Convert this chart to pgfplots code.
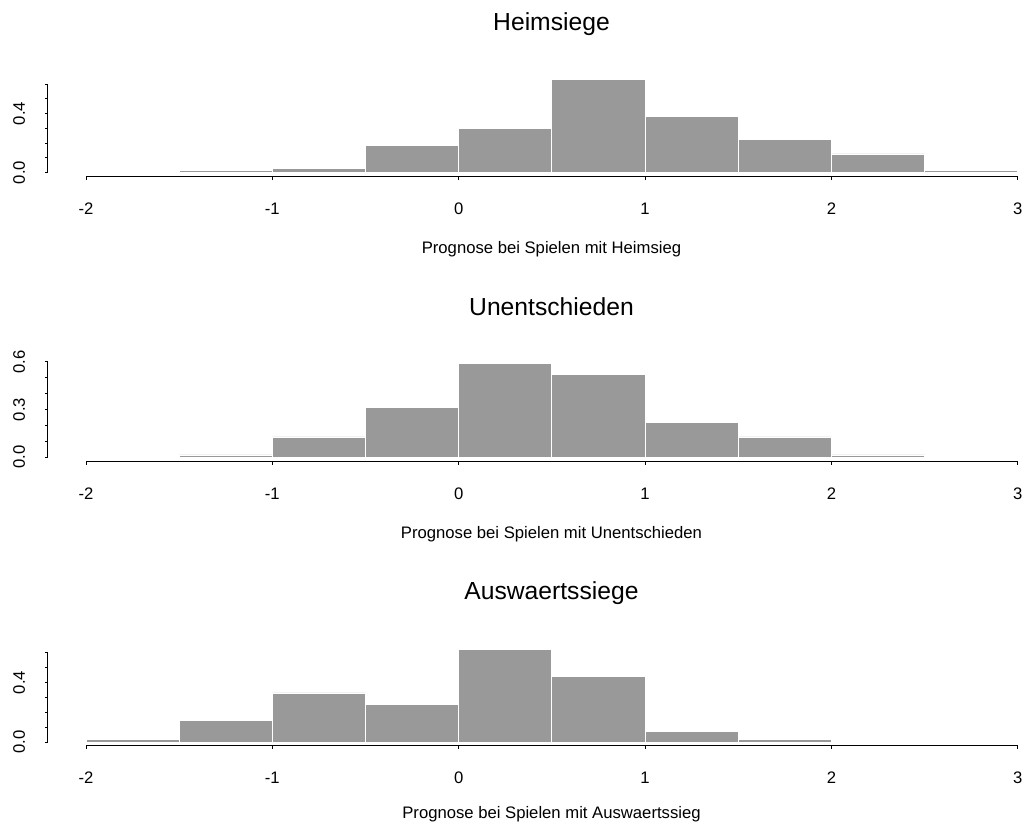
\documentclass[border=0pt]{standalone}
\usepackage{fontspec}
\setmainfont{Liberation Sans}
\usepackage{pgfplots}
\pgfplotsset{compat=1.18}
\definecolor{bargray}{RGB}{153,153,153}
\pgfplotsset{
 rhist/.style={
  scale only axis, width=755.25pt, xmin=-2.204, xmax=3.2,
  axis lines*=left, axis line style={draw=none},
  tick align=outside, major tick length=2pt, tick style={black, line width=0.6pt},
  xtick={-2,-1,0,1,2,3}, xticklabels={-2,-1,0,1,2,3},
  ytick={0,0.1,0.2,0.3,0.4,0.5,0.6},
  ticklabel style={font=\fontsize{12.5}{14}\selectfont, inner sep=0pt},
  xticklabel style={anchor=base},
  xticklabel shift=26.5pt,
  yticklabel style={rotate=90, anchor=base},
  yticklabel shift=15.25pt,
  title style={at={(axis description cs:0.5,0)}, anchor=base, yshift=103.5pt, font=\fontsize{18.5}{20}\selectfont, inner sep=0pt},
  xlabel style={at={(axis description cs:0.5,0)}, anchor=base, yshift=-57.3pt, font=\fontsize{12.5}{14}\selectfont, inner sep=0pt},
  clip=false,
 },
 hbar/.style={ybar, bar width=0.5, bar shift=0pt, fill=bargray, draw=white, line width=0.6pt},
}
\begin{document}
\begin{tikzpicture}
% Panel 1
\begin{axis}[rhist, at={(36pt,485.25pt)}, height=75.3pt, ymin=-0.0305, ymax=0.65,
  yticklabels={0.0,,,,0.4,,},
  title={Heimsiege}, xlabel={Prognose bei Spielen mit Heimsieg}]
\addplot[hbar] coordinates {(-1.25,0.016) (-0.75,0.03) (-0.25,0.183) (0.25,0.297) (0.75,0.63) (1.25,0.378) (1.75,0.225) (2.25,0.126) (2.75,0.016)};
\draw[line width=0.75pt] (axis cs:-2,-0.0305) -- (axis cs:3,-0.0305);
\draw[line width=0.75pt] (axis cs:-2.204,0) -- (axis cs:-2.204,0.6);
\end{axis}
% Panel 2
\begin{axis}[rhist, at={(36pt,271.5pt)}, height=77.6pt, ymin=-0.0295, ymax=0.62,
  yticklabels={0.0,,,0.3,,,0.6},
  title={Unentschieden}, xlabel={Prognose bei Spielen mit Unentschieden}]
\addplot[hbar] coordinates {(-1.25,0.015) (-0.75,0.128) (-0.25,0.314) (0.25,0.59) (0.75,0.52) (1.25,0.22) (1.75,0.128) (2.25,0.015)};
\draw[line width=0.75pt] (axis cs:-2,-0.0295) -- (axis cs:3,-0.0295);
\draw[line width=0.75pt] (axis cs:-2.204,0) -- (axis cs:-2.204,0.6);
\end{axis}
% Panel 3
\begin{axis}[rhist, at={(36pt,58.5pt)}, height=75.5pt, ymin=-0.027, ymax=0.65,
  yticklabels={0.0,,,,0.4,,},
  title={Auswaertssiege}, xlabel={Prognose bei Spielen mit Auswaertssieg},
  xlabel style={yshift=2.8pt}]
\addplot[hbar] coordinates {(-1.75,0.016) (-1.25,0.147) (-0.75,0.33) (-0.25,0.253) (0.25,0.625) (0.75,0.44) (1.25,0.069) (1.75,0.017)};
\draw[line width=0.75pt] (axis cs:-2,-0.027) -- (axis cs:3,-0.027);
\draw[line width=0.75pt] (axis cs:-2.204,0) -- (axis cs:-2.204,0.6);
\end{axis}
\pgfresetboundingbox
\path[use as bounding box] (0,0) rectangle (769.5pt,618pt);
\end{tikzpicture}
\end{document}
